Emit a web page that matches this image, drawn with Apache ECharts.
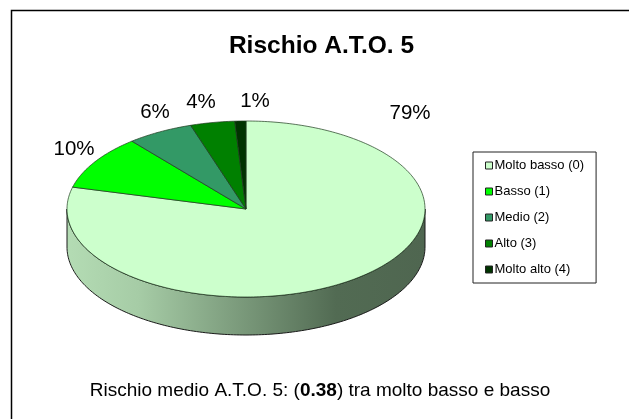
<!DOCTYPE html>
<html>
<head>
<meta charset="utf-8">
<style>html,body{margin:0;padding:0;background:#fff}#c{width:629px;height:419px}</style>
<script src="https://cdn.jsdelivr.net/npm/echarts@6/dist/echarts.min.js"></script>
</head>
<body>
<div id="c"></div>
<script>
const categories = ['Molto basso (0)', 'Basso (1)', 'Medio (2)', 'Alto (3)', 'Molto alto (4)'];
const values = [79, 10, 6, 4, 1];
const colors = ['#CCFFCC', '#00FF00', '#339966', '#008000', '#003300'];
const titleText = 'Rischio A.T.O. 5';
const noteBefore = 'Rischio medio A.T.O. 5: (';
const noteValue = '0.38';
const noteAfter = ') tra molto basso e basso';

const FONT = '"Liberation Sans", Arial, sans-serif';
const pie = {cx: 246, cy: 209, rx: 179, ry: 88, depth: 38};
const labelAnchor = [[410, 113], [74, 149], [155, 112], [201, 102], [255, 101]];
const total = values.reduce((a, b) => a + b, 0);
const pt = (deg, dy) => {
  const r = deg * Math.PI / 180;
  return [pie.cx + pie.rx * Math.sin(r), pie.cy - pie.ry * Math.cos(r) + (dy || 0)];
};
const arc = (a, b, dy) => {
  const out = [], n = Math.max(2, Math.ceil(Math.abs(b - a)));
  for (let i = 0; i <= n; i++) out.push(pt(a + (b - a) * i / n, dy));
  return out;
};
const sliceSeries = categories.map((name, i) => {
  const start = values.slice(0, i).reduce((a, b) => a + b, 0) / total * 360;
  const end = start + values[i] / total * 360;
  return {
    type: 'custom',
    name,
    coordinateSystem: 'none',
    silent: true,
    itemStyle: {color: colors[i]},
    data: [[values[i]]],
    renderItem() {
      const children = [];
      const a = Math.max(start, 90), b = Math.min(end, 270);
      if (b > a) {
        children.push({
          type: 'polygon',
          shape: {points: arc(a, b, 0).concat(arc(b, a, pie.depth))},
          style: {
            fill: new echarts.graphic.LinearGradient(0, 0, 1, 0, [
              {offset: 0, color: '#B4DCB4'},
              {offset: 0.2, color: '#A6CCA6'},
              {offset: 0.75, color: '#526B53'},
              {offset: 1, color: '#4F6650'}
            ]),
            stroke: '#1a1a1a', lineWidth: 1
          }
        });
      }
      children.push({
        type: 'polygon',
        shape: {points: [[pie.cx, pie.cy]].concat(arc(start, end, 0))},
        style: {fill: colors[i], stroke: '#1c3a1c', lineWidth: 0.7}
      });
      children.push({
        type: 'text',
        style: {
          x: labelAnchor[i][0], y: labelAnchor[i][1],
          text: Math.round(values[i] / total * 100) + '%',
          align: 'center', verticalAlign: 'middle',
          font: '20.5px ' + FONT, fill: '#000'
        }
      });
      return {type: 'group', children};
    }
  };
});

const chart = echarts.init(document.getElementById('c'), null, {renderer: 'canvas'});
chart.setOption({
  animation: false,
  backgroundColor: '#fff',
  title: [
    {text: titleText, left: 316.5, top: 29, textAlign: 'center',
     textStyle: {fontFamily: FONT, fontSize: 24.5, fontWeight: 'bold', color: '#000'}},
    {text: '{a|' + noteBefore + '}{b|' + noteValue + '}{a|' + noteAfter + '}',
     left: 315, top: 376, textAlign: 'center',
     textStyle: {fontWeight: 'normal', rich: {
       a: {fontFamily: FONT, fontSize: 19, fontWeight: 'normal', color: '#000'},
       b: {fontFamily: FONT, fontSize: 19, fontWeight: 'bold', color: '#000'}
     }}}
  ],
  legend: {
    orient: 'vertical', left: 473, top: 152,
    padding: [7, 12, 7, 12], itemGap: 13, itemWidth: 7, itemHeight: 7,
    backgroundColor: '#fff', borderColor: '#222', borderWidth: 1, borderRadius: 0,
    icon: 'rect', selectedMode: false,
    textStyle: {fontFamily: FONT, fontSize: 13, color: '#000', padding: [0, 0, 0, -3]},
    data: categories.map((name, i) => ({name, icon: 'rect',
      itemStyle: {color: colors[i], borderColor: '#222', borderWidth: 1}}))
  },
  graphic: [{
    type: 'rect', silent: true, z: -1,
    shape: {x: 11.5, y: 10.5, width: 640, height: 440},
    style: {fill: '#fff', stroke: '#000', lineWidth: 1.5}
  }],
  series: sliceSeries
});
</script>
</body>
</html>
